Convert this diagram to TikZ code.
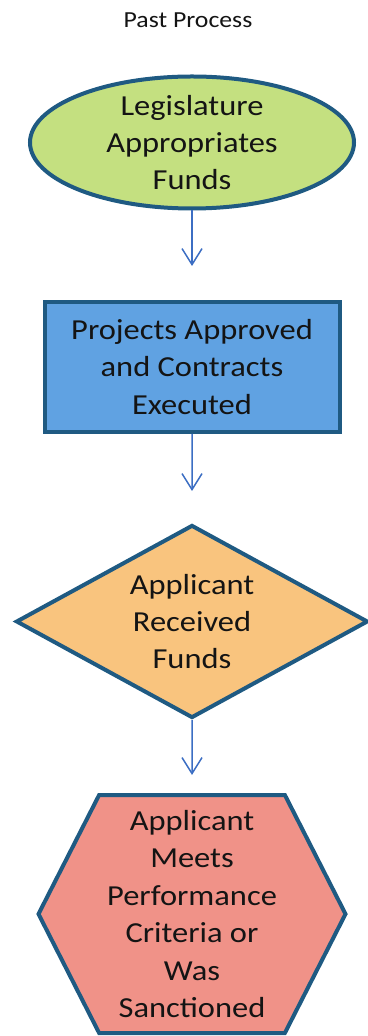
\documentclass[tikz,border=0pt]{standalone}
\usepackage{fontspec}
\setmainfont[FakeStretch=1.12]{Carlito}
\usetikzlibrary{shapes.geometric,shapes.symbols,arrows.meta}
\definecolor{outline}{RGB}{31,90,130}
\definecolor{arrowblue}{RGB}{60,110,195}
\definecolor{ovalgreen}{RGB}{196,224,128}
\definecolor{boxblue}{RGB}{96,162,226}
\definecolor{rhomborange}{RGB}{249,196,126}
\definecolor{hexred}{RGB}{240,146,136}
\definecolor{inkgray}{RGB}{20,20,20}
\begin{document}
\begin{tikzpicture}[
  every node/.style={font=\fontsize{14.5}{18.7}\selectfont,align=center,text=inkgray},
  edge from parent/.style={draw,arrowblue,line width=0.75pt,
    -{Straight Barb[length=8pt,width=10pt,line width=0.75pt]}},
  level 1/.style={level distance=112.25pt,edge from parent/.append style={shorten >=17pt}},
  level 2/.style={level distance=127.25pt,edge from parent/.append style={shorten >=16pt}},
  level 3/.style={level distance=146.25pt,edge from parent/.append style={shorten >=9pt}},
  greenoval/.style={ellipse,draw=outline,line width=2pt,fill=ovalgreen,
    minimum width=162pt,minimum height=66pt,inner xsep=2pt,inner ysep=-2.5pt},
  bluebox/.style={rectangle,draw=outline,line width=2pt,fill=boxblue,
    minimum width=147.5pt,minimum height=65pt,inner sep=0pt},
  orangediamond/.style={diamond,draw=outline,line width=2pt,fill=rhomborange,
    aspect=1.82,minimum width=176pt,minimum height=96.5pt,inner sep=0pt},
  redhexagon/.style={signal,signal to=west and east,signal pointer angle=126,
    draw=outline,line width=2pt,fill=hexred,
    minimum width=153.5pt,minimum height=119pt,inner sep=0pt}]
  \useasboundingbox (0,0) rectangle (184pt,-518pt);
  \node[font=\fontsize{11.5}{14}\selectfont,anchor=base] (title) at (94pt,-14pt) {Past Process};
  \node[greenoval] (legis) at (96pt,-71.25pt) {Legislature\\Appropriates\\Funds}
    child {node[bluebox] (projects) {Projects Approved\\and Contracts\\Executed}
      child {node[orangediamond] (received) {Applicant\\Received\\Funds}
        child {node[redhexagon] (meets) {Applicant\\Meets\\Performance\\Criteria or\\Was\\Sanctioned}}}};
\end{tikzpicture}
\end{document}
